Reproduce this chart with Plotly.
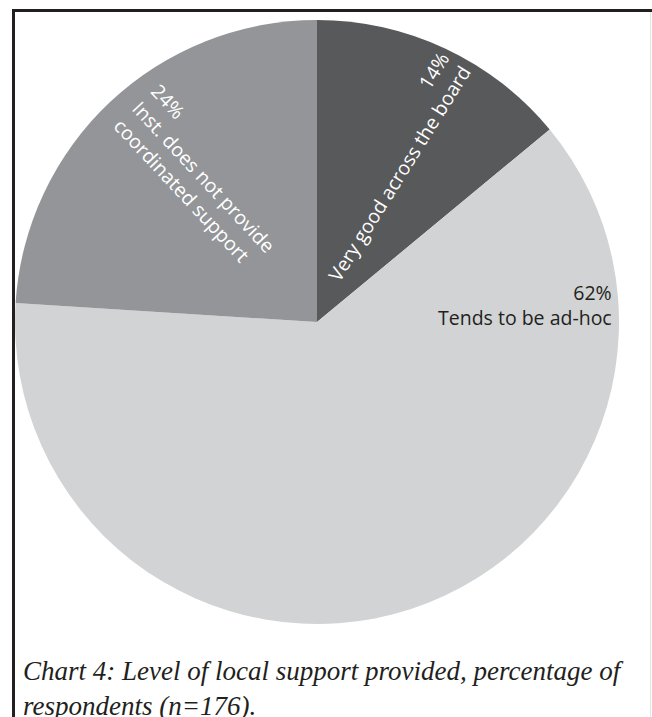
import plotly.graph_objects as go

# ---- data ----
categories = ["Very good across the board", "Tends to be ad-hoc", "Inst. does not provide coordinated support"]
values = [14, 62, 24]
label_text = [
    "Very good across the board",
    "Tends to be ad-hoc",
    "Inst. does not provide<br>coordinated support",
]
colors = ["#58595b", "#d1d3d4", "#939598"]
caption = "Chart 4: Level of local support provided, percentage of<br>respondents (n=176)."

W, H = 652, 717
def px(x):
    return x / W
def py(y):
    return 1 - y / H

cx, cy, r = 317, 322, 302

fig = go.Figure(go.Pie(
    labels=categories,
    values=values,
    sort=False,
    direction="clockwise",
    rotation=0,
    marker=dict(colors=colors, line=dict(width=0)),
    textinfo="none",
    hoverinfo="label+percent",
    domain=dict(x=[px(cx - r), px(cx + r)], y=[py(cy + r), py(cy - r)]),
    showlegend=False,
))

annotations = []
FS = 19.5

# slice 1 (14%): rotated radial label, percentage above, right aligned
annotations.append(dict(
    x=px(388), y=py(167), xref="paper", yref="paper",
    text=f"{values[0]}%<br>{label_text[0]}", showarrow=False, textangle=-58, align="right",
    xanchor="center", yanchor="middle",
    font=dict(family="Open Sans", size=FS, color="white"),
))
# slice 2 (62%): horizontal, right aligned
annotations.append(dict(
    x=px(614), y=py(305), xref="paper", yref="paper",
    text=f"{values[1]}%<br>{label_text[1]}", showarrow=False, align="right",
    xanchor="right", yanchor="middle",
    font=dict(family="Open Sans", size=FS, color="#231f20"),
))
# slice 3 (24%): rotated, left aligned
annotations.append(dict(
    x=px(204), y=py(177), xref="paper", yref="paper",
    text=f"{values[2]}%<br>{label_text[2]}", showarrow=False, textangle=47, align="left",
    xanchor="center", yanchor="middle",
    font=dict(family="Open Sans", size=FS, color="white"),
))

annotations.append(dict(
    x=px(21), y=py(654), xref="paper", yref="paper",
    text=caption, showarrow=False, align="left",
    xanchor="left", yanchor="top",
    font=dict(family="Liberation Serif", size=27, color="#231f20", style="italic"),
))

shapes = [
    dict(type="line", xref="paper", yref="paper", x0=px(13.5), x1=px(13.5), y0=py(9), y1=py(717),
         line=dict(color="#231f20", width=3)),
    dict(type="line", xref="paper", yref="paper", x0=px(12), x1=px(652), y0=py(10.5), y1=py(10.5),
         line=dict(color="#231f20", width=3)),
    dict(type="line", xref="paper", yref="paper", x0=px(650.5), x1=px(650.5), y0=py(12), y1=py(717),
         line=dict(color="#e4e4e4", width=1)),
]

fig.update_layout(
    width=W, height=H,
    margin=dict(l=0, r=0, t=0, b=0),
    paper_bgcolor="white",
    plot_bgcolor="white",
    annotations=annotations,
    shapes=shapes,
)

fig.write_html("out.html")
